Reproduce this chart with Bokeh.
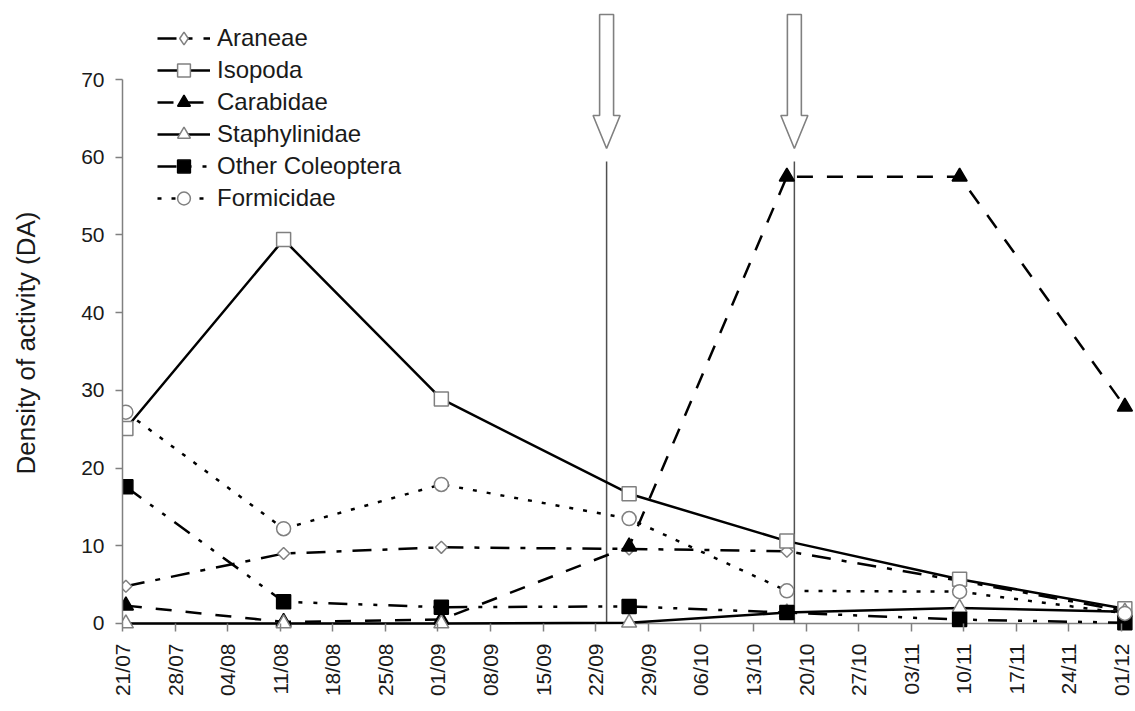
import math
from datetime import datetime

from bokeh.plotting import figure
from bokeh.layouts import row
from bokeh.models import FixedTicker, Legend, LegendItem
from bokeh.core.properties import value
from bokeh.embed import file_html
from bokeh.resources import INLINE

# ---------------- data ----------------
YEAR = 2009
sample_dates = ["21/07", "11/08", "01/09", "26/09", "17/10", "09/11", "01/12"]

araneae = [4.8, 9.0, 9.8, 9.6, 9.3, 5.5, 1.6]
isopoda = [25.1, 49.4, 28.9, 16.7, 10.6, 5.7, 1.9]
carabidae = [2.3, 0.2, 0.5, 9.9, 57.5, 57.5, 27.9]
staphylinidae = [0.0, 0.0, 0.0, 0.1, 1.4, 2.0, 1.5]
other_coleoptera = [17.6, 2.8, 2.1, 2.2, 1.4, 0.5, 0.1]
formicidae = [27.2, 12.2, 17.9, 13.5, 4.2, 4.1, 1.3]

series_names = ["Araneae", "Isopoda", "Carabidae", "Staphylinidae",
                "Other Coleoptera", "Formicidae"]

xtick_labels = ["21/07", "28/07", "04/08", "11/08", "18/08", "25/08", "01/09",
                "08/09", "15/09", "22/09", "29/09", "06/10", "13/10", "20/10",
                "27/10", "03/11", "10/11", "17/11", "24/11", "01/12"]
ytick_values = [0, 10, 20, 30, 40, 50, 60, 70]

event_dates = ["23/09", "18/10"]     # treatments (arrows + vertical lines)
event_line_top = 59.45

y_label = "Density of activity (DA)"
y_label_center = 36.1                # label centred at this value of the y axis

# ---------------- helpers ----------------
ORIGIN = datetime.strptime(f"{sample_dates[0]}/{YEAR}", "%d/%m/%Y")


def day_of(s):
    return (datetime.strptime(f"{s}/{YEAR}", "%d/%m/%Y") - ORIGIN).days


POINT_OFFSET = 0.45   # points drawn at the middle of the day
x = [day_of(s) + POINT_OFFSET for s in sample_dates]
xticks = [day_of(s) for s in xtick_labels]
events = [day_of(s) + POINT_OFFSET for s in event_dates]

FONT = "Liberation Sans"
GRAY = "#808080"
TXT = "#1a1a1a"
NAN = float("nan")

LABEL_W = 50
FRAME_H = 631
BOTTOM = 78
TOTAL_H = FRAME_H + BOTTOM
Y_RANGE = (-1.03, 80.17)

p = figure(frame_width=1011, frame_height=FRAME_H,
           x_range=(0, 134.6), y_range=Y_RANGE,
           output_backend="svg", toolbar_location=None,
           min_border_left=122 - LABEL_W, min_border_right=0,
           min_border_top=0, min_border_bottom=BOTTOM,
           background_fill_color="white", border_fill_color="white")
p.outline_line_color = None
p.xgrid.visible = False
p.ygrid.visible = False

# x axis (line drawn at y = 0, ticks reach from frame bottom up to y = 0)
xa = p.xaxis[0]
xa.ticker = FixedTicker(ticks=xticks)
xa.major_label_overrides = {t: lab for t, lab in zip(xticks, xtick_labels)}
xa.bounds = (xticks[0], xticks[-1])
xa.major_label_orientation = math.pi / 2
xa.major_tick_out = 0
xa.major_tick_in = 8
xa.minor_tick_out = 0
xa.minor_tick_in = 0
xa.axis_line_color = None
xa.major_tick_line_color = GRAY
xa.major_tick_line_width = 1.5
xa.major_label_standoff = 12
xa.major_label_text_font = FONT
xa.major_label_text_font_size = "21px"
xa.major_label_text_color = TXT

p.segment(x0=[xticks[0]], y0=[ytick_values[0]], x1=[xticks[-1]],
          y1=[ytick_values[0]], line_color=GRAY, line_width=1.5)

# y axis
ya = p.yaxis[0]
ya.ticker = FixedTicker(ticks=ytick_values)
ya.bounds = (ytick_values[0], ytick_values[-1])
ya.major_tick_out = 7
ya.major_tick_in = 0
ya.minor_tick_out = 0
ya.minor_tick_in = 0
ya.axis_line_color = GRAY
ya.axis_line_width = 1.5
ya.major_tick_line_color = GRAY
ya.major_tick_line_width = 1.5
ya.major_label_standoff = 11
ya.major_label_text_font = FONT
ya.major_label_text_font_size = "21px"
ya.major_label_text_color = TXT

# treatment lines and arrows
p.segment(x0=events, y0=[0] * len(events), x1=events,
          y1=[event_line_top] * len(events),
          line_color="#505050", line_width=1.5)

SHAFT_HW, HEAD_HW = 0.93, 1.8
ARROW_TOP, HEAD_BASE, TIP = 78.37, 65.37, 61.12
xs_arrows, ys_arrows = [], []
for cx in events:
    xs_arrows.append([cx - SHAFT_HW, cx + SHAFT_HW, cx + SHAFT_HW, cx + HEAD_HW,
                      cx, cx - HEAD_HW, cx - SHAFT_HW])
    ys_arrows.append([ARROW_TOP, ARROW_TOP, HEAD_BASE, HEAD_BASE, TIP,
                      HEAD_BASE, HEAD_BASE])
p.patches(xs_arrows, ys_arrows, fill_color="white", line_color=GRAY,
          line_width=1.6)

# series
values = [araneae, isopoda, carabidae, staphylinidae, other_coleoptera, formicidae]
styles = [
    dict(dash="19 11 5 11", marker="square", angle=math.pi / 4, size=8.5,
         fill="white", outline=GRAY, legend_marker="diamond"),
    dict(dash="solid", marker="square", angle=0, size=14, fill="white",
         outline=GRAY),
    dict(dash="16 14", marker="triangle", angle=0, size=15, fill="black",
         outline="black"),
    dict(dash="solid", marker="triangle", angle=0, size=15, fill="white",
         outline=GRAY),
    dict(dash="19 11 4 11 4 11", marker="square", angle=0, size=14,
         fill="black", outline="black"),
    dict(dash="4 10", marker="circle", angle=0, size=14, fill="white",
         outline=GRAY),
]

items = []
for name, vals, st in zip(series_names, values, styles):
    lr = p.line(x, vals, line_color="black", line_width=2.5, line_dash=st["dash"])
    mr = p.scatter(x, vals, marker=st["marker"], angle=st["angle"],
                   size=st["size"], fill_color=st["fill"],
                   line_color=st["outline"], line_width=1.5)
    if "legend_marker" in st:
        # legend-only proxy marker (legend glyphs ignore the angle)
        proxy = p.scatter([NAN], [NAN], marker=st["legend_marker"], size=12,
                          fill_color=st["fill"], line_color=st["outline"],
                          line_width=1.5)
        items.append(LegendItem(label=name, renderers=[lr, proxy]))
    else:
        items.append(LegendItem(label=name, renderers=[lr, mr]))

legend = Legend(items=items, location=(35, 417),
                glyph_width=53, glyph_height=32, label_height=32,
                label_standoff=7, spacing=0, padding=0, margin=0,
                border_line_color=None, background_fill_alpha=0,
                label_text_font=FONT, label_text_font_size="24px",
                label_text_color=TXT)
p.add_layout(legend, "center")

# y-axis title in a narrow strip to the left; it shares the main y range and
# frame geometry so the title sits at the requested axis value
lab = figure(width=LABEL_W, frame_height=FRAME_H, x_range=(0, LABEL_W),
             y_range=p.y_range, output_backend="svg", toolbar_location=None,
             min_border_left=0, min_border_right=0, min_border_top=0,
             min_border_bottom=BOTTOM,
             x_axis_location=None, y_axis_location=None,
             background_fill_color="white", border_fill_color="white")
lab.outline_line_color = None
lab.xgrid.visible = False
lab.ygrid.visible = False
lab.text(x=[25], y=[y_label_center], text=[y_label], angle=math.pi / 2,
         text_align="center", text_baseline="middle",
         text_font=value(FONT), text_font_size="26px", text_color=TXT)

layout = row(lab, p, spacing=0)
open("out.html", "w").write(file_html(layout, INLINE))
